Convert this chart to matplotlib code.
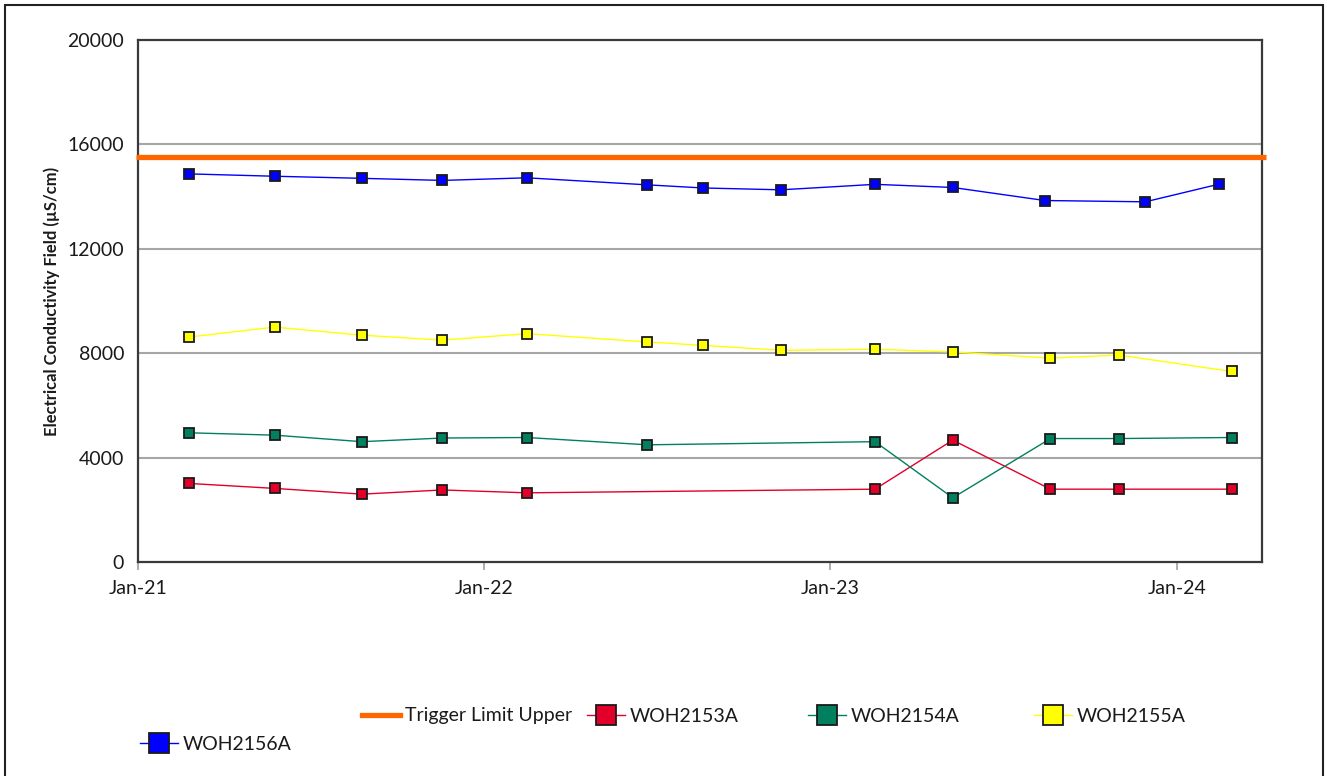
import matplotlib
matplotlib.use("Agg")
import matplotlib.pyplot as plt
import matplotlib.dates as mdates
from matplotlib.lines import Line2D
import numpy as np
import pandas as pd

plt.rcParams['font.family'] = ['Lato', 'DejaVu Sans']

# ---- data ----
dates_common = ["2021-02-24", "2021-05-25", "2021-08-25", "2021-11-18", "2022-02-15",
                "2022-06-22", "2022-08-20", "2022-11-10", "2023-02-17", "2023-05-10",
                "2023-08-21", "2023-11-01", "2024-02-28"]
dates_blue = ["2021-02-24", "2021-05-25", "2021-08-25", "2021-11-18", "2022-02-15",
              "2022-06-22", "2022-08-20", "2022-11-10", "2023-02-17", "2023-05-10",
              "2023-08-15", "2023-11-29", "2024-02-15"]
woh2156a = [14870, 14780, 14700, 14620, 14720, 14450, 14330, 14260, 14470, 14350, 13850, 13800, 14480]
woh2155a = [8620, 9000, 8690, 8500, 8750, 8430, 8300, 8110, 8150, 8050, 7810, 7930, 7300]

dates_green = ["2021-02-24", "2021-05-25", "2021-08-25", "2021-11-18", "2022-02-15",
               "2022-06-22", "2023-02-17", "2023-05-10", "2023-08-21", "2023-11-01", "2024-02-28"]
woh2154a = [4950, 4860, 4610, 4750, 4770, 4490, 4610, 2460, 4730, 4730, 4770]

dates_red = ["2021-02-24", "2021-05-25", "2021-08-25", "2021-11-18", "2022-02-15",
             "2023-02-17", "2023-05-10", "2023-08-21", "2023-11-01", "2024-02-28"]
woh2153a = [3010, 2820, 2600, 2760, 2650, 2790, 4670, 2790, 2790, 2790]

trigger_limit_upper = 15500
y_ticks = [0, 4000, 8000, 12000, 16000, 20000]
x_ticks = ["2021-01-01", "2022-01-01", "2023-01-01", "2024-01-01"]
x_range = ["2021-01-01", "2024-03-31"]

W, H = 1327, 776
fig = plt.figure(figsize=(W / 100, H / 100), dpi=100)
ax = fig.add_axes([138 / W, 1 - 562 / H, (1262 - 138) / W, (562 - 40) / H])

# grid
for yv in y_ticks[1:-1]:
    ax.axhline(yv, color="#a6a6a6", lw=1.5, zorder=1)

ax.axhline(trigger_limit_upper, xmin=-0.002, xmax=1.004, color="#FF6600", lw=3.8, zorder=3,
           solid_capstyle="butt", clip_on=False)

series = [
    ("WOH2153A", dates_red, woh2153a, "#E2002B"),
    ("WOH2154A", dates_green, woh2154a, "#00805F"),
    ("WOH2155A", dates_common, woh2155a, "#FFFF00"),
    ("WOH2156A", dates_blue, woh2156a, "#0000FF"),
]
handles = {}
for name, d, v, c in series:
    h, = ax.plot(pd.to_datetime(d), v, color=c, lw=1.0, marker="s", markersize=7.5,
                 markerfacecolor=c, markeredgecolor="#1a1a1a", markeredgewidth=1.3, zorder=4)
    handles[name] = h

ax.set_ylim(0, 20000)
ax.set_yticks(y_ticks)
ax.set_xlim(pd.to_datetime(x_range[0]), pd.to_datetime(x_range[1]))
ax.set_xticks(pd.to_datetime(x_ticks))
ax.xaxis.set_major_formatter(mdates.DateFormatter("%b-%y"))
ax.tick_params(axis="y", length=0, pad=10, labelsize=14, labelcolor="#1a1a1a")
ax.tick_params(axis="x", length=6, width=1.2, color="#a0a0a0", pad=7, labelsize=14, labelcolor="#1a1a1a")
for s in ax.spines.values():
    s.set_color("#3a3a3a")
    s.set_linewidth(1.6)

fig.text(52 / W, 1 - 301 / H, "Electrical Conductivity Field (µS/cm)", rotation=90,
         ha="center", va="center", fontsize=12, fontweight="bold", color="#1a1a1a")

# legend entries placed individually
trig = Line2D([], [], color="#FF6600", lw=3.8)
entries = [
    (trig, "Trigger Limit Upper", 362, 716),
    (handles["WOH2153A"], "WOH2153A", 587, 716),
    (handles["WOH2154A"], "WOH2154A", 808, 716),
    (handles["WOH2155A"], "WOH2155A", 1034, 716),
    (handles["WOH2156A"], "WOH2156A", 140, 744),
]
for h, lab, x, y in entries:
    lg = fig.legend(handles=[h], labels=[lab], loc="center left",
                    bbox_to_anchor=(x / W, 1 - y / H), frameon=False, fontsize=14,
                    handlelength=1.95, handletextpad=0.25, borderpad=0, borderaxespad=0,
                    markerscale=2.0, labelcolor="#1a1a1a")

# figure border
fig.add_artist(plt.Rectangle((5 / W, -0.05), (1323 - 5) / W, 1.05 - 5 / H,
                             transform=fig.transFigure, fill=False, edgecolor="#222222", lw=1.5))

fig.savefig("out.png", dpi=100)
